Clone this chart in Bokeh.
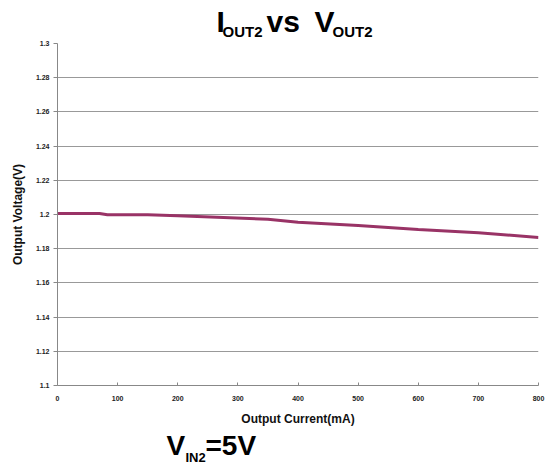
from bokeh.plotting import figure
from bokeh.models import Range1d, FixedTicker, Label
from bokeh.layouts import column
from bokeh.embed import file_html
from bokeh.resources import INLINE

# Data
current_ma = [0, 70, 83, 150, 200, 350, 400, 500, 600, 700, 800]
voltage_v = [1.2006, 1.2006, 1.1998, 1.1998, 1.1993, 1.1972, 1.1955, 1.1935, 1.1912, 1.1893, 1.1866]

y_ticks = [1.1, 1.12, 1.14, 1.16, 1.18, 1.2, 1.22, 1.24, 1.26, 1.28, 1.3]
y_tick_labels = ["1.1", "1.12", "1.14", "1.16", "1.18", "1.2", "1.22", "1.24", "1.26", "1.28", "1.3"]
x_ticks = [0, 100, 200, 300, 400, 500, 600, 700, 800]

NARROW = "'Liberation Sans Narrow', 'Liberation Sans', Arial, sans-serif"
SANS = "'Liberation Sans', Arial, sans-serif"
W = 546
FL, FR = 57, 538


def text_fig(h):
    f = figure(width=W, height=h, output_backend="svg", toolbar_location=None,
               x_range=Range1d(FL, FR), y_range=Range1d(0, h),
               min_border_left=FL, min_border_right=W - FR, min_border_top=0, min_border_bottom=0,
               x_axis_type=None, y_axis_type=None)
    f.outline_line_color = None
    f.xgrid.grid_line_color = None
    f.ygrid.grid_line_color = None
    return f


def lab(f, x, y, t, size):
    f.add_layout(Label(x=x, y=y, text=t,
                       text_font=NARROW, text_font_style="bold", text_font_size=size,
                       text_color="black", text_baseline="alphabetic", text_align="left"))


top = text_fig(40)
lab(top, 216, 19, "I", "30px")
lab(top, 222, 9, "OUT2", "15px")
lab(top, 266, 19, "vs", "30px")
lab(top, 314, 19, "V", "30px")
lab(top, 332, 9, "OUT2", "15px")

p = figure(width=W, height=390, output_backend="svg", toolbar_location=None,
           x_range=Range1d(0, 800), y_range=Range1d(1.1, 1.3),
           min_border_left=FL, min_border_right=W - FR, min_border_top=3, min_border_bottom=45)
p.outline_line_color = None
p.background_fill_color = "white"

p.line(current_ma, voltage_v, line_color="#993366", line_width=3)

p.yaxis.ticker = FixedTicker(ticks=y_ticks)
p.yaxis.major_label_overrides = {t: l for t, l in zip(y_ticks, y_tick_labels)}
p.xaxis.ticker = FixedTicker(ticks=x_ticks)
for ax in (p.xaxis, p.yaxis):
    ax.axis_line_color = "#888888"
    ax.major_tick_line_color = "#888888"
    ax.minor_tick_line_color = None
    ax.major_label_text_font = SANS
    ax.major_label_text_font_style = "bold"
    ax.major_label_text_font_size = "7px"
    ax.major_label_text_color = "#222222"
    ax.axis_label_text_font = SANS
    ax.axis_label_text_font_style = "bold"
    ax.axis_label_text_font_size = "12px"
    ax.axis_label_text_color = "#111111"
p.yaxis.major_tick_out = 4
p.yaxis.major_tick_in = 0
p.xaxis.major_tick_out = 0
p.xaxis.major_tick_in = 3
p.xaxis.major_label_standoff = 10
p.yaxis.major_label_standoff = 4
p.xaxis.axis_label = "Output Current(mA)"
p.yaxis.axis_label = "Output Voltage(V)"
p.xaxis.axis_label_standoff = 8
p.yaxis.axis_label_standoff = 8

p.xgrid.grid_line_color = None
p.ygrid.ticker = FixedTicker(ticks=y_ticks)
p.ygrid.grid_line_color = "#999999"
p.ygrid.grid_line_width = 1

bot = text_fig(40)
lab(bot, 166, 25, "V", "28px")
lab(bot, 185, 13, "IN2", "13px")
lab(bot, 205, 25, "=5V", "28px")

layout = column(top, p, bot, spacing=0)
open("out.html", "w").write(file_html(layout, INLINE))
